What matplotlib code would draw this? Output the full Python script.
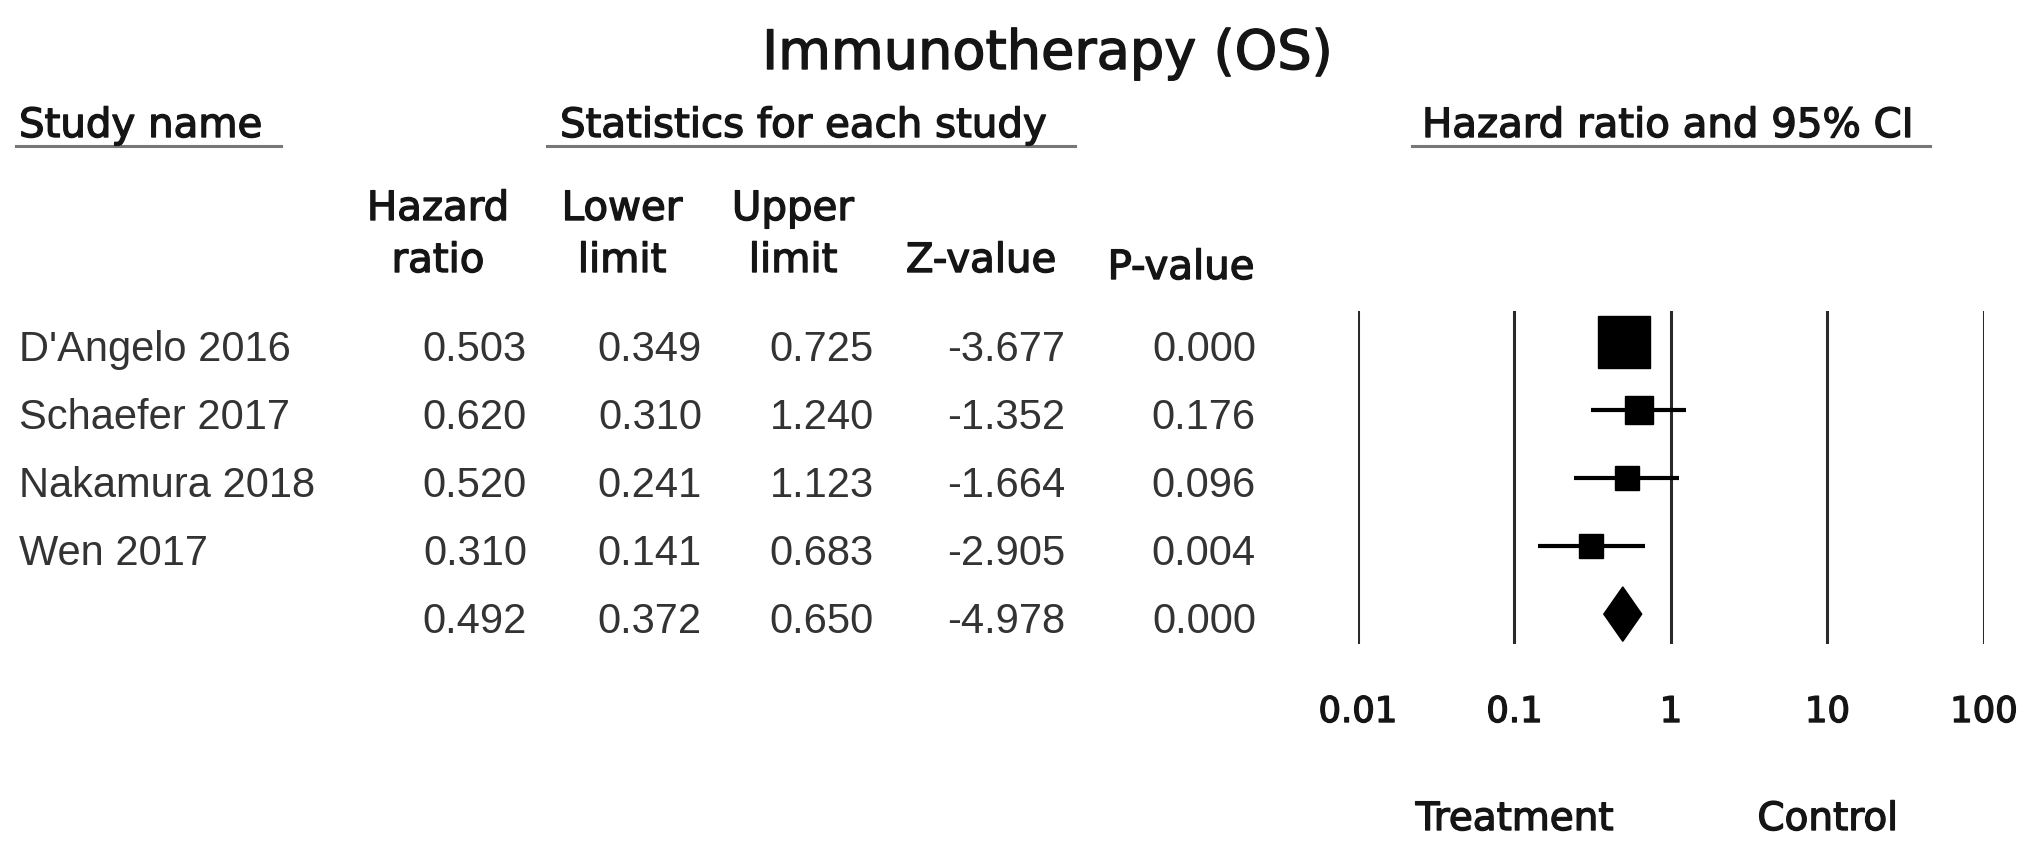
import numpy as np
import matplotlib
matplotlib.use('Agg')
import matplotlib.pyplot as plt
from matplotlib import transforms
import matplotlib.patheffects as pe

plt.rcParams['font.family'] = ['Liberation Sans', 'DejaVu Sans']

# ---------------------------------------------------------------------------
# Data
# ---------------------------------------------------------------------------
studies   = ["D'Angelo 2016", "Schaefer 2017", "Nakamura 2018", "Wen 2017"]
hr        = [0.503, 0.620, 0.520, 0.310]
lower     = [0.349, 0.310, 0.241, 0.141]
upper     = [0.725, 1.240, 1.123, 0.683]
z_value   = [-3.677, -1.352, -1.664, -2.905]
p_value   = [0.000, 0.176, 0.096, 0.004]
weights   = [58.2, 16.2, 13.1, 12.5]   # relative weight (%)

pooled    = dict(hr=0.492, lower=0.372, upper=0.650, z=-4.978, p=0.000)

ticks       = [0.01, 0.1, 1, 10, 100]
tick_labels = ['0.01', '0.1', '1', '10', '100']

W, H = 2031, 853
ROW_FS = 30
HEAD_FS = 29
HEAD_FONT = 'DejaVu Sans'
HEAD_COLOR = '#151515'
ROW_COLOR = '#333333'
# medium-weight look for header text
HEAVY = [pe.withStroke(linewidth=1.0, foreground=HEAD_COLOR)]

fig = plt.figure(figsize=(W / 100, H / 100), dpi=100)


def fx(px):
    return px / W


def fy(px):
    return 1 - px / H


def head(x, y, s, **kw):
    kw.setdefault('fontsize', HEAD_FS)
    kw.setdefault('ha', 'center')
    fig.text(fx(x), fy(y), s, va='center', family=HEAD_FONT,
             color=HEAD_COLOR, path_effects=HEAVY, **kw)


# forest panel (log scale)
ax = fig.add_axes([fx(1358), fy(645), (1984 - 1358) / W, (645 - 312) / H])
ax.set_xscale('log')
ax.set_xlim(0.01, 100)
n = len(studies)
ax.set_ylim(n + 0.44, -0.46)
ax.axis('off')

for v in ticks:
    ax.axvline(v, color='#2a2a2a', lw=2.2, zorder=1)

for i in range(n):
    ax.plot([lower[i], upper[i]], [i, i], color='black', lw=3.0,
            solid_capstyle='butt', zorder=2)
    ax.plot(hr[i], i, marker='s', color='black',
            ms=4.9 * np.sqrt(weights[i]), zorder=3)

# pooled diamond
dy = 0.40
ax.fill([pooled['lower'], pooled['hr'], pooled['upper'], pooled['hr']],
        [n, n - dy, n, n + dy], color='black', zorder=3)

# tick labels / direction labels
tr_x = transforms.blended_transform_factory(ax.transData, fig.transFigure)
for v, lab in zip(ticks, tick_labels):
    ax.text(v, fy(713), lab, transform=tr_x, ha='center', va='center',
            fontsize=25.5, family=HEAD_FONT, color=HEAD_COLOR,
            path_effects=HEAVY)
for v, lab in [(0.1, 'Treatment'), (10, 'Control')]:
    ax.text(v, fy(820), lab, transform=tr_x, ha='center', va='center',
            fontsize=28, family=HEAD_FONT, color=HEAD_COLOR,
            path_effects=HEAVY)

# ---------------------------------------------------------------------------
# Table text
# ---------------------------------------------------------------------------
head(1047, 55, 'Immunotherapy (OS)', fontsize=39)

sec = [('Study name', 19, 16, 281),
       ('Statistics for each study', 560, 547, 1075),
       ('Hazard ratio and 95% CI', 1422, 1412, 1930)]
for label, x, x0, x1 in sec:
    head(x, 127, label, ha='left')
    fig.add_artist(plt.Line2D([fx(x0), fx(x1)], [fy(147), fy(147)],
                              color='#777777', lw=2.2))

col_right = [527, 702, 874, 1065, 1256]
headers = [('Hazard', 'ratio', 438), ('Lower', 'limit', 622),
           ('Upper', 'limit', 793)]
for top, bot, x in headers:
    head(x, 210, top)
    head(x, 262, bot)
head(981, 262, 'Z-value')
head(1181, 269, 'P-value')

tr_y = transforms.blended_transform_factory(fig.transFigure, ax.transData)
rows = [(studies[i], hr[i], lower[i], upper[i], z_value[i], p_value[i])
        for i in range(n)]
rows.append(('', pooled['hr'], pooled['lower'], pooled['upper'],
             pooled['z'], pooled['p']))
for i, (name, a, b, c, d, e) in enumerate(rows):
    yy = i + 0.1
    fig.text(fx(19), yy, name, transform=tr_y, ha='left', va='center',
             fontsize=ROW_FS, color=ROW_COLOR)
    for x, val in zip(col_right, [a, b, c, d, e]):
        fig.text(fx(x), yy, f'{val:.3f}', transform=tr_y, ha='right',
                 va='center', fontsize=ROW_FS, color=ROW_COLOR)

fig.savefig('out.png', dpi=100)
